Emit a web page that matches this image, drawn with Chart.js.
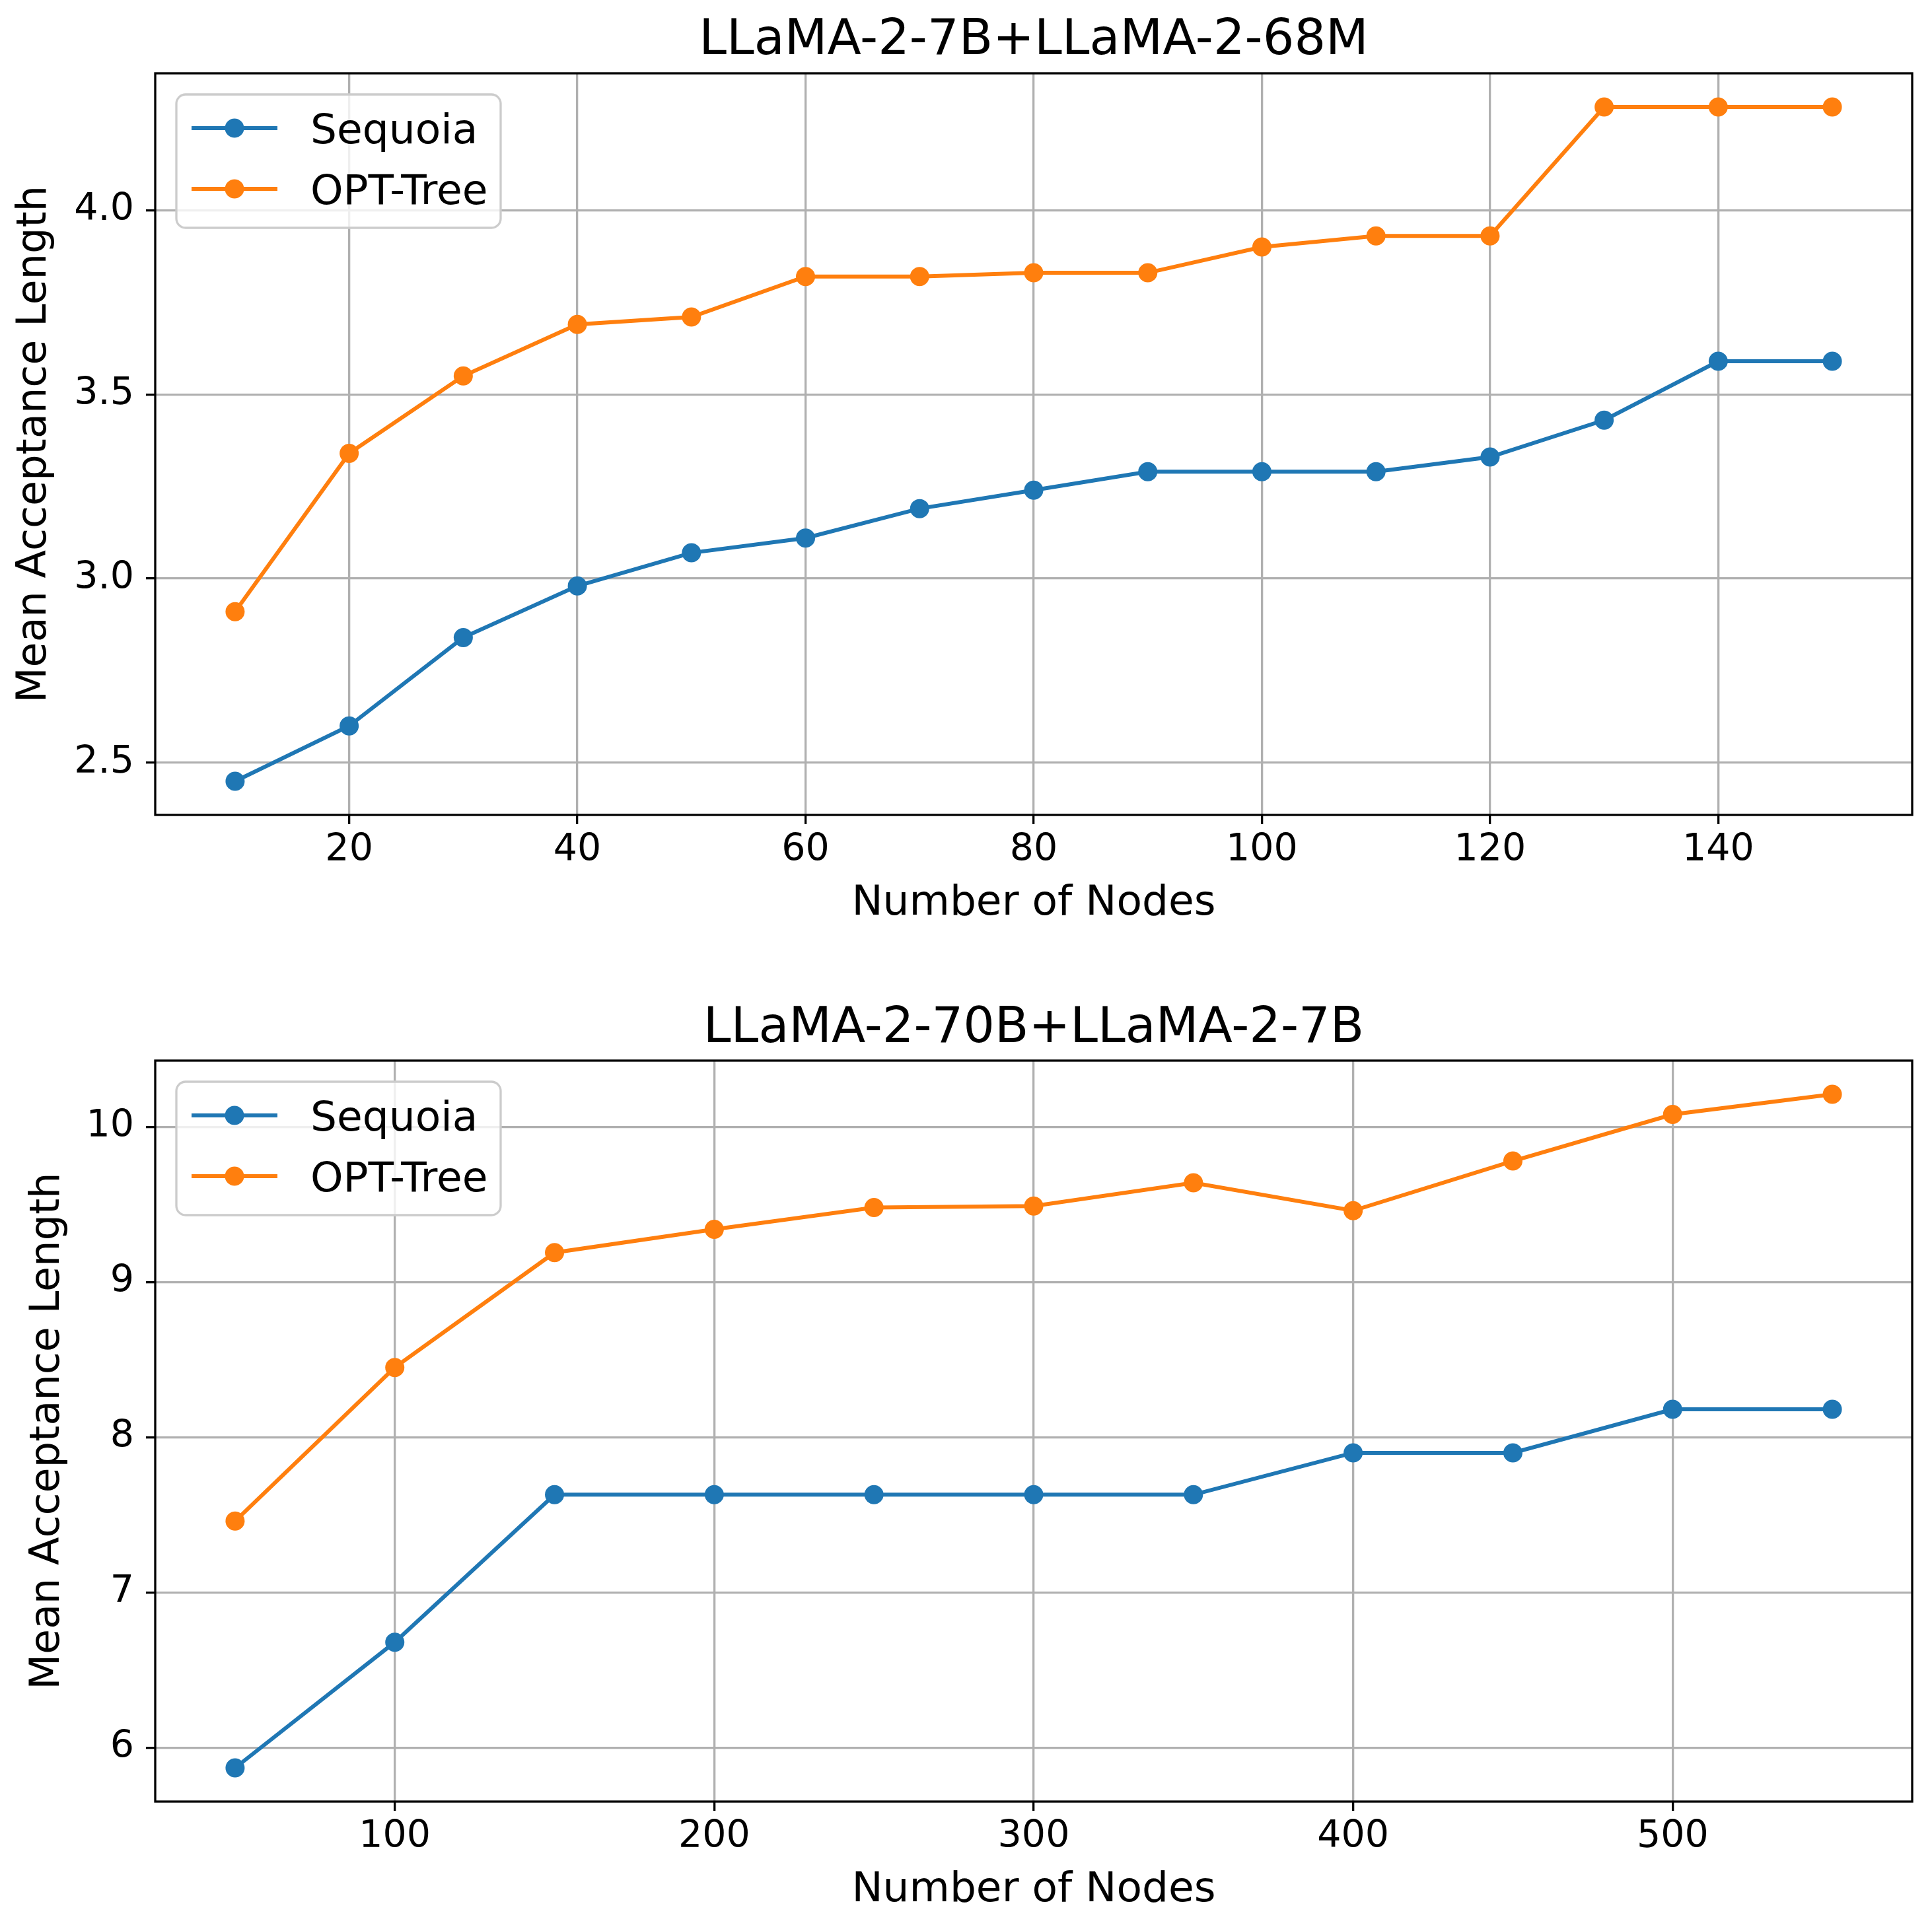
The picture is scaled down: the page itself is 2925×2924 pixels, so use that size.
<!DOCTYPE html>
<html>
<head>
<meta charset="utf-8">
<script src="https://cdn.jsdelivr.net/npm/chart.js@4.4.1/dist/chart.umd.min.js"></script>
<style>
  html, body { margin: 0; padding: 0; background: #fff; }
  canvas { display: block; }
</style>
</head>
<body>
<canvas id="topChart" width="2925" height="1462" style="width:2925px;height:1462px"></canvas>
<canvas id="bottomChart" width="2925" height="1462" style="width:2925px;height:1462px"></canvas>
<script>
// ---- data ----
const seriesNames = ["Sequoia", "OPT-Tree"];
const seriesColors = ["#1f77b4", "#ff7f0e"];

const nodesTop = [10, 20, 30, 40, 50, 60, 70, 80, 90, 100, 110, 120, 130, 140, 150];
const sequoiaTop = [2.45, 2.60, 2.84, 2.98, 3.07, 3.11, 3.19, 3.24, 3.29, 3.29, 3.29, 3.33, 3.43, 3.59, 3.59];
const optTreeTop = [2.91, 3.34, 3.55, 3.69, 3.71, 3.82, 3.82, 3.83, 3.83, 3.90, 3.93, 3.93, 4.28, 4.28, 4.28];
const xTicksTop = [20, 40, 60, 80, 100, 120, 140];
const yTicksTop = [2.5, 3.0, 3.5, 4.0];

const nodesBottom = [50, 100, 150, 200, 250, 300, 350, 400, 450, 500, 550];
const sequoiaBottom = [5.87, 6.68, 7.63, 7.63, 7.63, 7.63, 7.63, 7.90, 7.90, 8.18, 8.18];
const optTreeBottom = [7.46, 8.45, 9.19, 9.34, 9.48, 9.49, 9.64, 9.46, 9.78, 10.08, 10.21];
const xTicksBottom = [100, 200, 300, 400, 500];
const yTicksBottom = [6, 7, 8, 9, 10];

const xLabel = "Number of Nodes";
const yLabel = "Mean Acceptance Length";

Chart.defaults.font.family = "'DejaVu Sans', sans-serif";
Chart.defaults.color = "#000";

// matplotlib-style 5% margins around the data
function padRange(values) {
  const lo = Math.min(...values), hi = Math.max(...values);
  const m = (hi - lo) * 0.05;
  return [lo - m, hi + m];
}

// box around the plot area (all four spines)
const framePlugin = {
  id: "frame",
  afterDatasetsDraw(chart) {
    const { ctx, chartArea: a } = chart;
    ctx.save();
    ctx.strokeStyle = "#000";
    ctx.lineWidth = 3.3;
    ctx.strokeRect(a.left, a.top, a.right - a.left, a.bottom - a.top);
    ctx.restore();
  }
};

// legend drawn like matplotlib: line + marker sample, rounded grey frame
const legendPlugin = {
  id: "mplLegend",
  afterDraw(chart) {
    const { ctx, chartArea: a } = chart;
    const x = a.left + 32, y = a.top + 32, w = 491, h = 202, r = 14;
    ctx.save();
    ctx.beginPath();
    ctx.roundRect(x, y, w, h, r);
    ctx.fillStyle = "rgba(255,255,255,0.8)";
    ctx.fill();
    ctx.strokeStyle = "#cccccc";
    ctx.lineWidth = 3.3;
    ctx.stroke();
    chart.data.datasets.forEach((ds, i) => {
      const rowY = a.top + 83 + i * 92;
      ctx.strokeStyle = ds.borderColor;
      ctx.lineWidth = 6;
      ctx.beginPath();
      ctx.moveTo(a.left + 55, rowY);
      ctx.lineTo(a.left + 185, rowY);
      ctx.stroke();
      ctx.fillStyle = ds.borderColor;
      ctx.beginPath();
      ctx.arc(a.left + 120, rowY, 14.5, 0, Math.PI * 2);
      ctx.fill();
      ctx.fillStyle = "#000";
      ctx.font = "63px 'DejaVu Sans', sans-serif";
      ctx.textBaseline = "alphabetic";
      ctx.textAlign = "left";
      ctx.fillText(ds.label, a.left + 235, rowY + 0.365 * 63);
    });
    ctx.restore();
  }
};

function makeChart(id, opts) {
  const [yMin, yMax] = padRange(opts.series.flat());
  const [xMin, xMax] = padRange(opts.nodes);
  const datasets = opts.series.map((vals, i) => ({
    label: seriesNames[i],
    data: opts.nodes.map((n, k) => ({ x: n, y: vals[k] })),
    borderColor: seriesColors[i],
    backgroundColor: seriesColors[i],
    pointBackgroundColor: seriesColors[i],
    pointBorderWidth: 0,
    pointRadius: 14.5,
    borderWidth: 6,
    tension: 0
  }));

  new Chart(document.getElementById(id), {
    type: "line",
    data: { datasets },
    options: {
      responsive: false,
      devicePixelRatio: 1,
      animation: false,
      events: [],
      layout: { padding: { left: 0, right: 30, top: 0, bottom: 0 } },
      plugins: {
        legend: { display: false },
        tooltip: { enabled: false },
        title: {
          display: true,
          text: opts.title,
          fullSize: false,
          color: "#000",
          font: { size: 75, weight: "normal" },
          padding: opts.titlePad
        }
      },
      scales: {
        x: {
          type: "linear",
          min: xMin,
          max: xMax,
          afterFit: (s) => { s.height = opts.xAxisHeight; },
          afterBuildTicks: (s) => { s.ticks = opts.xTicks.map(v => ({ value: v })); },
          border: { display: false },
          grid: { color: "#b0b0b0", lineWidth: 3.3, tickColor: "#000", tickWidth: 3.3, tickLength: 14 },
          ticks: { font: { size: 57 }, color: "#000", padding: 6, maxRotation: 0, autoSkip: false },
          title: { display: true, text: xLabel, font: { size: 63 }, color: "#000", padding: { top: 0, bottom: opts.xTitlePad } }
        },
        y: {
          type: "linear",
          min: yMin,
          max: yMax,
          afterFit: (s) => { s.width = 235; },
          afterBuildTicks: (s) => { s.ticks = opts.yTicks.map(v => ({ value: v })); },
          border: { display: false },
          grid: { color: "#b0b0b0", lineWidth: 3.3, tickColor: "#000", tickWidth: 3.3, tickLength: 14 },
          ticks: {
            font: { size: 57 }, color: "#000", padding: 18, autoSkip: false,
            callback: (v) => opts.yFormat(v)
          },
          title: { display: true, text: yLabel, font: { size: 62 }, color: "#000", padding: { top: opts.yTitlePad, bottom: 0 } }
        }
      }
    },
    plugins: [framePlugin, legendPlugin]
  });
}

makeChart("topChart", {
  title: "LLaMA-2-7B+LLaMA-2-68M",
  nodes: nodesTop,
  series: [sequoiaTop, optTreeTop],
  xTicks: xTicksTop,
  yTicks: yTicksTop,
  yFormat: (v) => v.toFixed(1),
  titlePad: { top: 18, bottom: 3 },
  xAxisHeight: 228,
  xTitlePad: 56,
  yTitlePad: 16
});

makeChart("bottomChart", {
  title: "LLaMA-2-70B+LLaMA-2-7B",
  nodes: nodesBottom,
  series: [sequoiaBottom, optTreeBottom],
  xTicks: xTicksBottom,
  yTicks: yTicksBottom,
  yFormat: (v) => String(Math.round(v)),
  titlePad: { top: 52, bottom: 2 },
  xAxisHeight: 196,
  xTitlePad: 24,
  yTitlePad: 36
});
</script>
</body>
</html>
